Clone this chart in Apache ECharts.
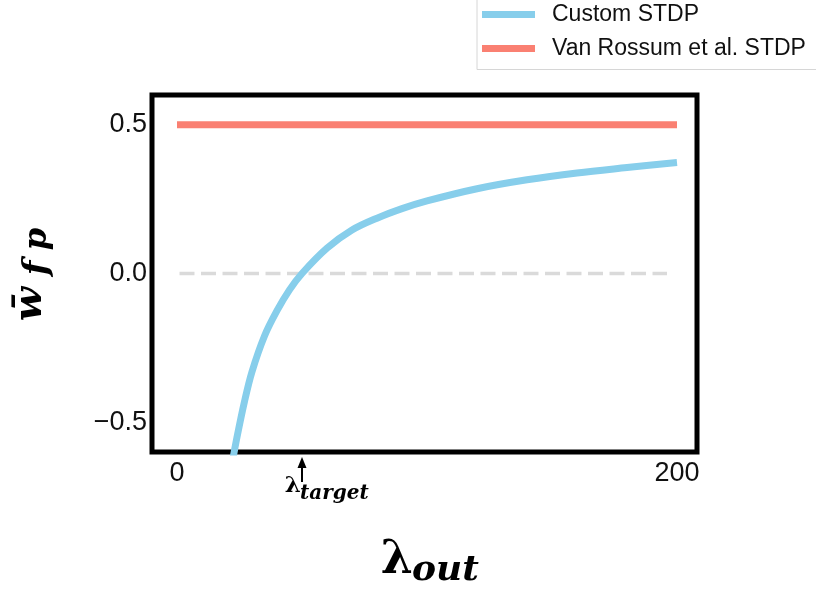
<!DOCTYPE html>
<html>
<head>
<meta charset="utf-8">
<script src="https://cdn.jsdelivr.net/npm/echarts@6/dist/echarts.min.js"></script>
<style>
  html, body { margin: 0; padding: 0; background: #fff; }
  #chart { width: 816px; height: 592px; }
</style>
</head>
<body>
<div id="chart"></div>
<script>
// values
const lambdaOut = [22, 24, 27, 30, 35, 40, 45, 50, 60, 70, 80, 90, 100, 120, 140, 160, 180, 200]
const customSTDP = [-0.64, -0.55, -0.43, -0.33, -0.21, -0.125, -0.055, 0, 0.085, 0.146, 0.186, 0.218, 0.244, 0.285, 0.315, 0.338, 0.356, 0.373]
const rossumX = [0, 200]
const rossumSTDP = [0.5, 0.5]
const zeroX = [1, 196]
const zeroY = [0, 0]
const xTicks = [0, 200]
const yTicks = [-0.5, 0, 0.5]
const lambdaTarget = 50

const pairs = (xs, ys) => xs.map((x, i) => [x, ys[i]])
const tickFont = { fontFamily: 'Liberation Sans, Arial, sans-serif', fontSize: 27, color: '#111' }
const mathFont = 'DejaVu Serif, serif'
const mathText = (x, y, text, font, align) => ({
  type: 'text', x, y, style: { text, font: font + ' ' + mathFont, fill: '#000', textAlign: align, textVerticalAlign: 'middle' }
})

const chart = echarts.init(document.getElementById('chart'))

chart.setOption({
  animation: false,
  grid: { left: 152, right: 119, top: 95, bottom: 140, show: true, borderColor: '#000', borderWidth: 5, backgroundColor: 'transparent' },
  legend: {
    data: ['Custom STDP', 'Van Rossum et al. STDP'],
    orient: 'vertical', left: 477, top: -9,
    padding: [12, 40, 9.5, 5], itemGap: 11,
    itemWidth: 53, itemHeight: 7, icon: 'rect',
    borderColor: '#d6d6d6', borderWidth: 1, borderRadius: 0,
    textStyle: { fontFamily: 'Liberation Sans, Arial, sans-serif', fontSize: 23, lineHeight: 23, color: '#111', padding: [0, 0, 0, 12] }
  },
  xAxis: {
    type: 'value', min: -10, max: 208,
    axisLine: { show: false }, axisTick: { show: false }, splitLine: { show: false },
    axisLabel: { ...tickFont, margin: 8, customValues: xTicks }
  },
  yAxis: {
    type: 'value', min: -0.6, max: 0.6,
    axisLine: { show: false }, axisTick: { show: false }, splitLine: { show: false },
    axisLabel: { ...tickFont, margin: 5, customValues: yTicks, formatter: v => v.toFixed(1).replace('-', '\u2212') }
  },
  series: [
    {
      name: 'zero', type: 'line', data: pairs(zeroX, zeroY), symbol: 'none', silent: true,
      lineStyle: { color: '#dadada', width: 3.5, type: [15, 6.5] }
    },
    {
      name: 'Van Rossum et al. STDP', type: 'line', data: pairs(rossumX, rossumSTDP), symbol: 'none',
      itemStyle: { color: '#FA8072' }, lineStyle: { color: '#FA8072', width: 7 }
    },
    {
      name: 'Custom STDP', type: 'line', data: pairs(lambdaOut, customSTDP), symbol: 'none',
      smooth: 0.35, clip: true,
      itemStyle: { color: '#87CEEB' }, lineStyle: { color: '#87CEEB', width: 7 }
    }
  ]
})

// annotations placed from the axis scale
const [tx] = chart.convertToPixel({ gridIndex: 0 }, [lambdaTarget, 0])
chart.setOption({
  graphic: [
    { type: 'line', shape: { x1: tx, y1: 466, x2: tx, y2: 482 }, style: { stroke: '#000', lineWidth: 2 } },
    { type: 'polygon', shape: { points: [[tx, 457], [tx - 4.5, 468], [tx + 4.5, 468]] }, style: { fill: '#000' } },
    mathText(tx - 1, 486.5, 'λ', 'bold 23px', 'right'),
    mathText(tx - 2, 494, 'target', 'italic bold 20px', 'left'),
    // x axis title
    mathText(413, 561, 'λ', 'bold 46px', 'right'),
    mathText(412, 571, 'out', 'italic bold 36px', 'left'),
    // y axis title, rotated
    {
      type: 'group', x: 40, y: 272, rotation: Math.PI / 2,
      children: [
        mathText(-32, -9, 'w\u0304', 'italic bold 40px', 'center'),
        mathText(4, -2, 'f', 'italic bold 34px', 'center'),
        mathText(33, -2, 'p', 'italic bold 32px', 'center')
      ]
    }
  ]
})
</script>
</body>
</html>
